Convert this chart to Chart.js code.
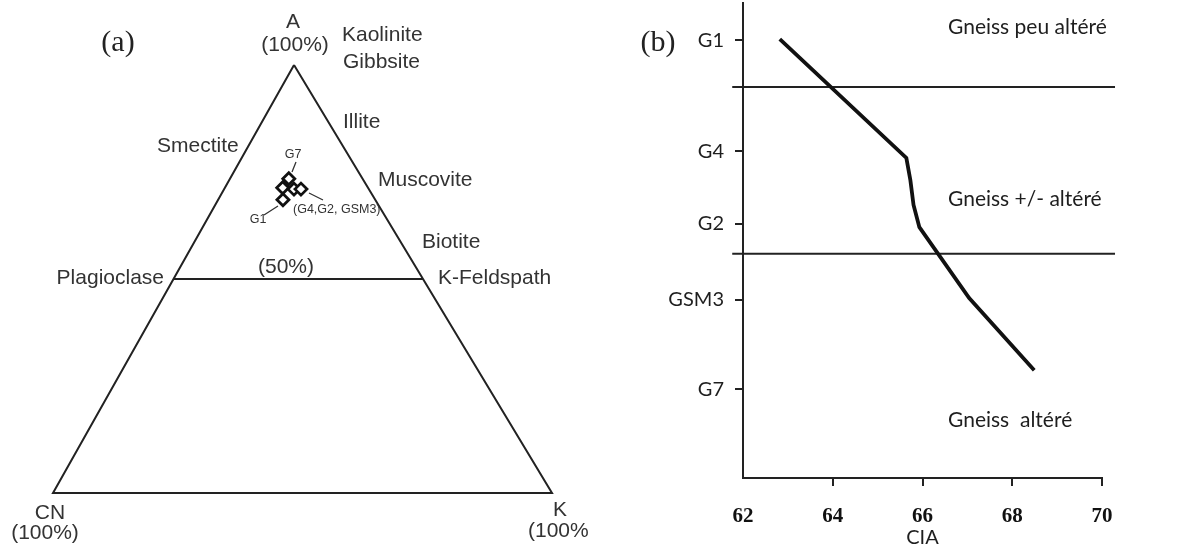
<!DOCTYPE html>
<html>
<head>
<meta charset="utf-8">
<script src="https://cdn.jsdelivr.net/npm/chart.js@4.4.1/dist/chart.umd.min.js"></script>
<style>
  html, body { margin: 0; padding: 0; background: #fff; }
  #wrap { position: relative; width: 1188px; height: 552px; }
  canvas { position: absolute; top: 0; }
  #ternary { left: 0; }
  #cia { left: 600px; }
</style>
</head>
<body>
<div id="wrap">
  <canvas id="ternary" width="600" height="552"></canvas>
  <canvas id="cia" width="588" height="552"></canvas>
</div>
<script>
// (a) A-CN-K compositions, in %
const sampleNames = ["G7", "G4", "G2", "GSM3", "G1"];
const sampleA  = [73.4, 71.3, 71.0, 71.0, 68.5];
const sampleCN = [14.8, 17.1, 15.0, 13.6, 18.5];
const sampleK  = [11.8, 11.6, 14.0, 15.4, 13.0];

// triangle outline (A -> CN -> K -> A) and the 50% A line
const frameA  = [100, 0, 0, 100];
const frameCN = [0, 100, 0, 0];
const frameK  = [0, 0, 100, 0];
const halfA  = [50, 50];
const halfCN = [50, 0];
const halfK  = [0, 50];

// (b) CIA profile down the section
const profileCIA   = [62.82, 65.64, 65.73, 65.80, 65.93, 67.04, 68.49];
const profileDepth = [0.76, 3.26, 3.73, 4.25, 4.72, 6.21, 7.73];
const levelNames = ["G1", "G4", "G2", "GSM3", "G7"];
const levelDepth = [0.78, 3.12, 4.65, 6.25, 8.13];
const ciaTicks = [62, 64, 66, 68, 70];
const zoneLimits = [1.77, 5.28];
const zoneLineCIA = [61.76, 70.29];

// apex sits a bit left of the base midpoint
const APEX_X = 0.483;
function toXY(a, cn, k) {
  const s = a + cn + k;
  return { x: (k + a * APEX_X) / s, y: a / s };
}

const ternaryLabels = {
  id: "ternaryLabels",
  afterDraw(chart) {
    const ctx = chart.ctx;
    ctx.save();
    ctx.fillStyle = "#333";
    ctx.textBaseline = "middle";
    const big = "21px 'Liberation Sans', Arial, sans-serif";
    const txt = (s, x, y, align) => { ctx.textAlign = align || "left"; ctx.fillText(s, x, y); };
    ctx.font = big;
    txt("A", 293, 22, "center");
    txt("(100%)", 295, 45, "center");
    txt("Kaolinite", 342, 35);
    txt("Gibbsite", 343, 62);
    txt("Illite", 343, 122);
    txt("Smectite", 157, 146);
    txt("Muscovite", 378, 180);
    txt("Biotite", 422, 242);
    txt("Plagioclase", 164, 278, "right");
    txt("(50%)", 286, 267, "center");
    txt("K-Feldspath", 438, 278);
    txt("CN", 50, 513, "center");
    txt("(100%)", 45, 533, "center");
    txt("K", 560, 510, "center");
    txt("(100%", 528, 531);

    ctx.font = "30px 'Liberation Serif', 'Times New Roman', serif";
    ctx.fillStyle = "#222";
    txt("(a)", 118, 43, "center");

    // sample tags and their leaders
    ctx.fillStyle = "#333";
    ctx.font = "12.5px 'Liberation Sans', Arial, sans-serif";
    txt("G7", 293, 155, "center");
    txt("G1", 258, 220, "center");
    txt("(G4,G2, GSM3)", 293, 210);
    ctx.strokeStyle = "#333";
    ctx.lineWidth = 1.3;
    ctx.beginPath();
    ctx.moveTo(296, 162); ctx.lineTo(292, 172);
    ctx.moveTo(264, 215); ctx.lineTo(278, 206);
    ctx.moveTo(309, 193); ctx.lineTo(323, 200);
    ctx.stroke();
    ctx.restore();
  }
};

new Chart(document.getElementById("ternary"), {
  type: "scatter",
  data: {
    datasets: [
      { data: frameA.map((a, i) => toXY(a, frameCN[i], frameK[i])), showLine: true,
        borderColor: "#222", borderWidth: 2, pointRadius: 0, clip: false },
      { data: halfA.map((a, i) => toXY(a, halfCN[i], halfK[i])), showLine: true,
        borderColor: "#222", borderWidth: 1.8, pointRadius: 0, clip: false },
      { label: "samples", data: sampleA.map((a, i) => toXY(a, sampleCN[i], sampleK[i])),
        pointStyle: "rectRot", pointRadius: 6, borderWidth: 2.8,
        borderColor: "#111", backgroundColor: "#fff", clip: false }
    ]
  },
  options: {
    responsive: false,
    animation: false,
    layout: { padding: { left: 53, right: 48, top: 65, bottom: 59 } },
    scales: {
      x: { display: false, min: 0, max: 1 },
      y: { display: false, min: 0, max: 1 }
    },
    plugins: { legend: { display: false }, tooltip: { enabled: false } }
  },
  plugins: [ternaryLabels]
});

const zoneLabels = {
  id: "zoneLabels",
  afterDraw(chart) {
    const ctx = chart.ctx;
    ctx.save();
    ctx.fillStyle = "#1e1e1e";
    ctx.textBaseline = "middle";
    ctx.textAlign = "left";
    ctx.font = "21px Lato, 'Open Sans', sans-serif";
    ctx.fillText("Gneiss peu altéré", 348, 27);
    ctx.fillText("Gneiss +/- altéré", 348, 199);
    ctx.fillText("Gneiss  altéré", 348, 420);
    ctx.font = "30px 'Liberation Serif', 'Times New Roman', serif";
    ctx.textAlign = "center";
    ctx.fillStyle = "#222";
    ctx.fillText("(b)", 58, 43);
    ctx.restore();
  }
};

new Chart(document.getElementById("cia"), {
  type: "line",
  data: {
    datasets: [
      { data: profileCIA.map((c, i) => ({ x: c, y: profileDepth[i] })),
        borderColor: "#111", borderWidth: 3.8, pointRadius: 0, tension: 0 },
      ...zoneLimits.map(d => ({
        data: zoneLineCIA.map(c => ({ x: c, y: d })),
        borderColor: "#222", borderWidth: 2, pointRadius: 0, clip: false
      }))
    ]
  },
  options: {
    responsive: false,
    animation: false,
    layout: { padding: { left: 0, right: 86, top: 3, bottom: 0 } },
    scales: {
      x: {
        type: "linear", min: 62, max: 70,
        afterFit: s => { s.height = 74; s.paddingLeft = 0; s.paddingRight = 0; },
        afterBuildTicks: s => { s.ticks = ciaTicks.map(v => ({ value: v })); },
        border: { display: true, color: "#222", width: 2 },
        grid: { drawOnChartArea: false, drawTicks: true, tickLength: 8, lineWidth: 2,
                color: c => c.index === 0 ? "rgba(0,0,0,0)" : "#222" },
        ticks: { color: "#111", padding: 18, maxRotation: 0,
                 font: { family: "'Liberation Serif', serif", size: 21, weight: "bold" } },
        title: { display: true, text: "CIA", color: "#1e1e1e",
                 font: { family: "Lato, sans-serif", size: 20 }, padding: { top: 0, bottom: 2 } }
      },
      y: {
        type: "linear", reverse: true, min: 0, max: 10,
        // labels sit well inside the axis, no extra room needed at the ends
        afterFit: s => { s.width = 143; s.paddingTop = 0; s.paddingBottom = 0; },
        afterBuildTicks: s => { s.ticks = levelDepth.map(v => ({ value: v })); },
        border: { display: true, color: "#222", width: 2 },
        grid: { drawOnChartArea: false, drawTicks: true, tickLength: 8, lineWidth: 2, color: "#222" },
        ticks: { color: "#1e1e1e", padding: 11, callback: (v, i) => levelNames[i],
                 font: { family: "Lato, sans-serif", size: 20 } }
      }
    },
    plugins: { legend: { display: false }, tooltip: { enabled: false } }
  },
  plugins: [zoneLabels]
});
</script>
</body>
</html>
